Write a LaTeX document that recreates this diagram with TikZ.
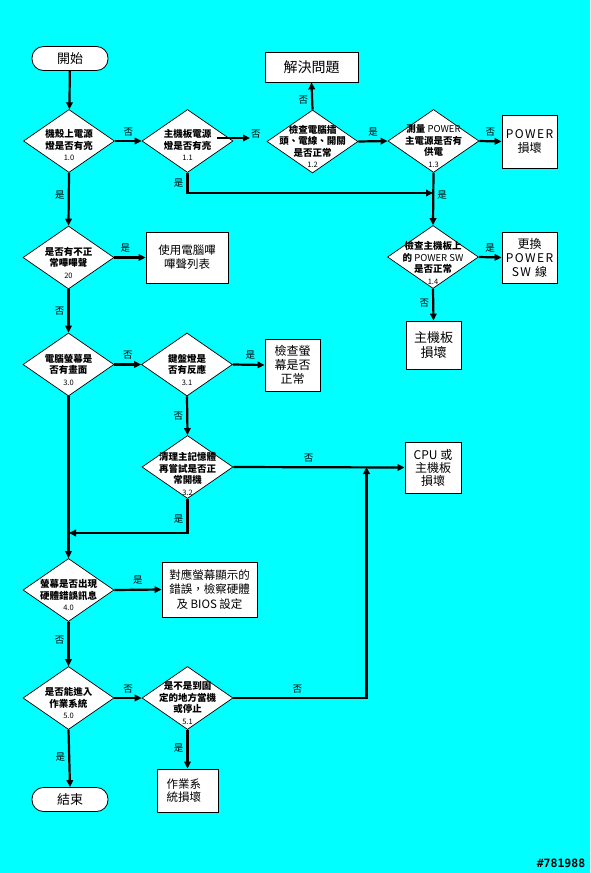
\documentclass[tikz,border=0pt]{standalone}
\usepackage{fontspec}
\setmainfont{Noto Sans CJK TC}
\newfontfamily\wmfont{DejaVu Sans Mono}
\usetikzlibrary{shapes.geometric,arrows.meta,calc}
\definecolor{bg}{RGB}{0,255,255}
\newcommand\dnum[1]{{\fontsize{7.5}{9}\selectfont\mdseries #1}}
\begin{document}
\begin{tikzpicture}[x=1pt,y=-1pt,
 conn/.style={line width=2.2pt, -{Triangle[length=7pt,width=6.5pt]}},
 plainline/.style={line width=2.2pt},
 dia/.style={diamond, draw, fill=white, line width=0.7pt, minimum width=91pt, minimum height=63pt, inner sep=0pt},
 dt/.style={align=center, font=\fontsize{9.5}{11.5}\selectfont\bfseries, inner sep=0pt},
 box/.style={rectangle, draw, fill=white, line width=0.8pt, align=center, inner sep=0pt},
 term/.style={rectangle, rounded corners=11.5pt, draw, fill=white, line width=0.8pt, minimum width=76pt, minimum height=24pt, font=\fontsize{13}{15}\selectfont},
 lab/.style={font=\fontsize{9.5}{11}\selectfont, inner sep=0pt}
]
\fill[bg] (0,0) rectangle (590,873);
\useasboundingbox (0,0) rectangle (590,873);

% terminals
\node[term] (start) at (70,58.5) {開始};
\node[term] (end) at (70,799.5) {結束};

% diamonds
\node[dia, label={[dt,yshift=-4pt]center:機殼上電源\\燈是否有亮\\\dnum{1.0}}] (d10) at (69,141) {};
\node[dia, label={[dt,yshift=-4pt]center:主機板電源\\燈是否有亮\\\dnum{1.1}}] (d11) at (187.5,141) {};
\node[dia, label={[dt,yshift=-5pt]center:檢查電腦插\\頭、電線、開關\\是否正常\\\dnum{1.2}}] (d12) at (312.5,141.5) {};
\node[dia, label={[dt,yshift=-5pt]center:測量 {\mdseries POWER}\\主電源是否有\\供電\\\dnum{1.3}}] (d13) at (433.5,141) {};
\node[dia, label={[dt,yshift=-6pt]center:檢查主機板上\\的 {\mdseries POWER SW}\\是否正常\\\dnum{1.4}}] (d14) at (433,257) {};
\node[dia, label={[dt,yshift=-5pt]center:是否有不正\\常嗶嗶聲\\\dnum{20}}] (d20) at (68.5,257.5) {};
\node[dia, label={[dt,yshift=-5pt]center:電腦螢幕是\\否有畫面\\\dnum{3.0}}] (d30) at (68.5,364.5) {};
\node[dia, label={[dt,yshift=-5pt]center:鍵盤燈是\\否有反應\\\dnum{3.1}}] (d31) at (187,364.5) {};
\node[dia, label={[dt,yshift=-7pt]center:清理主記憶體\\再嘗試是否正\\常開機\\\dnum{3.2}}] (d32) at (187.5,467) {};
\node[dia, label={[dt,yshift=-5pt]center:螢幕是否出現\\硬體錯誤訊息\\\dnum{4.0}}] (d40) at (68.5,590) {};
\node[dia, label={[dt,yshift=-5pt]center:是否能進入\\作業系統\\\dnum{5.0}}] (d50) at (68.5,698) {};
\node[dia, label={[dt,yshift=-5pt]center:是不是到固\\定的地方當機\\或停止\\\dnum{5.1}}] (d51) at (187.5,698) {};

% boxes
\node[box, minimum width=93pt, minimum height=30pt, font=\fontsize{14}{16}\selectfont] (solve) at (311.5,67) {解決問題};
\node[box, minimum width=55pt, minimum height=53pt, font=\fontsize{12}{14}\selectfont] (pw) at (529.5,141.5) {\addfontfeature{LetterSpace=12}POWER\\損壞};
\node[box, minimum width=55pt, minimum height=51pt, font=\fontsize{12}{14}\selectfont] (swap) at (529.5,257.5) {更換\\\addfontfeature{LetterSpace=12}POWER\\\addfontfeature{LetterSpace=12}SW 線};
\node[box, minimum width=55pt, minimum height=48pt, font=\fontsize{13}{15}\selectfont] (mb) at (433.5,345) {主機板\\損壞};
\node[box, minimum width=82pt, minimum height=51pt, font=\fontsize{11.5}{14}\selectfont] (beep) at (187,257.5) {使用電腦嗶\\嗶聲列表};
\node[box, minimum width=55pt, minimum height=52pt, font=\fontsize{12}{14}\selectfont] (mon) at (292.5,365) {檢查螢\\幕是否\\正常};
\node[box, minimum width=56pt, minimum height=51pt, font=\fontsize{12}{13}\selectfont] (cpu) at (433,467.5) {CPU 或\\主機板\\損壞};
\node[box, minimum width=95pt, minimum height=55pt, font=\fontsize{11.5}{14.5}\selectfont] (bios) at (209.5,589.5) {對應螢幕顯示的\\錯誤，檢察硬體\\及 BIOS 設定};
\node[box, minimum width=61pt, minimum height=43pt, text width=42pt, align=left, font=\fontsize{11.5}{12.5}\selectfont] (os) at (187.5,790.5) {作業系\\統損壞};

% junction coordinates
\coordinate (j1) at (433,193);
\coordinate (j2) at (69,533);
\coordinate (j3) at (366.5,467);
\coordinate (c11a) at (217,138);
\coordinate (c11b) at (250,138);

% connectors
\draw[conn] (start) -- (d10);
\draw[conn] (d10.east) -- node[lab,above=4pt]{否} (d11.west);
\draw[conn] (c11a) -- (c11b) node[lab,right=0pt,yshift=4pt]{否};
\draw[conn] (d12.north) -- node[lab,left=3pt,pos=0.36]{否} (solve.south);
\draw[conn] (d12.east) -- node[lab,above=4pt]{是} (d13.west);
\draw[conn] (d13.east) -- node[lab,above=4pt]{否} (pw.west);
\draw[conn] (d11.south) |- node[lab,left=3pt,pos=0.25]{是} (j1);
\draw[conn] (d13.south) -- node[lab,right=3pt,pos=0.43]{是} (d14.north);
\draw[conn] (d14.east) -- node[lab,above=4pt]{是} (swap.west);
\draw[conn] (d14.south) -- node[lab,left=3pt,pos=0.45]{否} (mb.north);
\draw[conn] (d10.south) -- node[lab,left=3pt,pos=0.43]{是} (d20.north);
\draw[conn] (d20.east) -- node[lab,above=4pt,pos=0.35]{是} (beep.west);
\draw[conn] (d20.south) -- node[lab,left=3pt]{否} (d30.north);
\draw[conn] (d30.east) -- node[lab,above=4pt]{否} (d31.west);
\draw[conn] (d31.east) -- node[lab,above=4pt,pos=0.55]{是} (mon.west);
\draw[conn] (d31.south) -- node[lab,left=3pt]{否} (d32.north);
\draw[conn] (d32.east) -- node[lab,above=4pt,pos=0.44]{否} (cpu.west);
\draw[conn] (d32.south) |- node[lab,left=3pt,pos=0.3]{是} (j2);
\draw[conn] (d30.south) -- (d40.north);
\draw[conn] (d40.east) -- node[lab,above=4pt,pos=0.5]{是} (bios.west);
\draw[conn] (d40.south) -- node[lab,left=3pt,pos=0.42]{否} (d50.north);
\draw[conn] (d50.east) -- node[lab,above=4pt]{否} (d51.west);
\draw[conn] (d51.east) -| node[lab,above=4pt,pos=0.24]{否} (j3);
\draw[conn] (d51.south) -- node[lab,left=3pt,pos=0.47]{是} (os.north);
\draw[conn] (d50.south) -- node[lab,left=3pt,pos=0.47]{是} (end.north);

% watermark
\node[font=\fontsize{11.5}{12}\selectfont\wmfont\bfseries, inner sep=0pt] (wm) at (561,863.5) {\#781988};
\end{tikzpicture}
\end{document}
